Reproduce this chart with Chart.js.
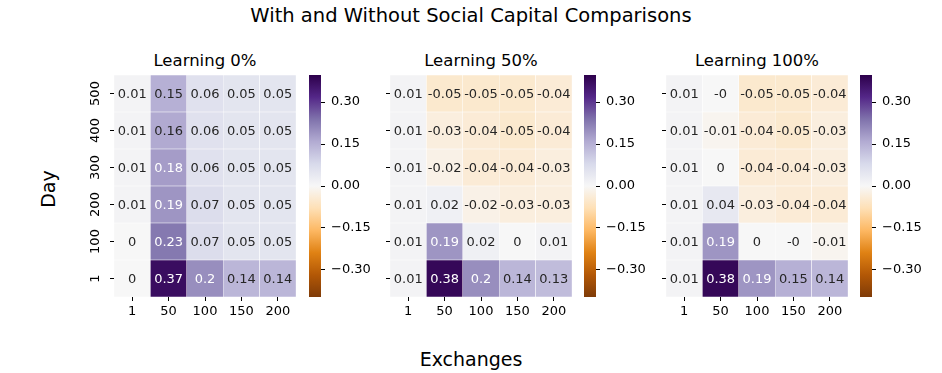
<!DOCTYPE html>
<html><head><meta charset="utf-8">
<script src="https://cdn.jsdelivr.net/npm/chart.js@4.4.1/dist/chart.umd.min.js"></script>
<style>
body{margin:0;background:#fff;width:942px;height:373px;position:relative;overflow:hidden;font-family:'DejaVu Sans',sans-serif;color:#000}
canvas{position:absolute}
.t{position:absolute;white-space:nowrap;text-align:center}
</style></head><body>
<div class="t" style="left:0;width:942px;top:4px;line-height:24px;font-size:19.5px">With and Without Social Capital Comparisons</div>
<div class="t" id="st0" style="top:49px;line-height:24px;font-size:16.5px;width:200px"></div>
<div class="t" id="st1" style="top:49px;line-height:24px;font-size:16.5px;width:200px"></div>
<div class="t" id="st2" style="top:49px;line-height:24px;font-size:16.5px;width:200px"></div>
<div class="t" style="left:371px;width:200px;top:347px;line-height:24px;font-size:19px">Exchanges</div>
<div class="t" style="left:47.5px;top:189px;line-height:24px;font-size:19px;transform:translate(-50%,-50%) rotate(-90deg)">Day</div>
<canvas id="h0"></canvas><canvas id="h1"></canvas><canvas id="h2"></canvas>
<canvas id="c0"></canvas><canvas id="c1"></canvas><canvas id="c2"></canvas>
<script>
// ---- data ----
const exchanges = ['1', '50', '100', '150', '200'];
const days = ['1', '100', '200', '300', '400', '500']; // bottom to top
const panelTitles = ['Learning 0%', 'Learning 50%', 'Learning 100%'];
// rows: day 1, 100, 200, 300, 400, 500 ; columns: exchanges
const learning0 = [
  [0, 0.37, 0.2, 0.14, 0.14],
  [0, 0.23, 0.07, 0.05, 0.05],
  [0.01, 0.19, 0.07, 0.05, 0.05],
  [0.01, 0.18, 0.06, 0.05, 0.05],
  [0.01, 0.16, 0.06, 0.05, 0.05],
  [0.01, 0.15, 0.06, 0.05, 0.05]
];
const learning50 = [
  [0.01, 0.38, 0.2, 0.14, 0.13],
  [0.01, 0.19, 0.02, 0, 0.01],
  [0.01, 0.02, -0.02, -0.03, -0.03],
  [0.01, -0.02, -0.04, -0.04, -0.03],
  [0.01, -0.03, -0.04, -0.05, -0.04],
  [0.01, -0.05, -0.05, -0.05, -0.04]
];
const learning100 = [
  [0.01, 0.38, 0.19, 0.15, 0.14],
  [0.01, 0.19, 0, -0, -0.01],
  [0.01, 0.04, -0.03, -0.04, -0.04],
  [0.01, 0, -0.04, -0.04, -0.03],
  [0.01, -0.01, -0.04, -0.05, -0.03],
  [0.01, -0, -0.05, -0.05, -0.04]
];
const colorbarTicks = [-0.3, -0.15, 0, 0.15, 0.3];
const vLimit = 0.397;

// ---- layout / style ----
const heatLeft = [114, 390, 666];
const heatW = 182, heatH = 222, heatTop = 75;
const cbLeft = [309, 584, 860];
const cbW = 12;
const PUOR = ['#7f3b08','#b35806','#e08214','#fdb863','#fee0b6','#f7f7f7','#d8daeb','#b2abd2','#8073ac','#542788','#2d004b'];

Chart.defaults.font.family = "'DejaVu Sans', sans-serif";
Chart.defaults.font.size = 13;
Chart.defaults.color = '#000';

function hex(h){return [parseInt(h.slice(1,3),16)/255,parseInt(h.slice(3,5),16)/255,parseInt(h.slice(5,7),16)/255];}
const PUOR_RGB = PUOR.map(hex);
function cmap(v){
  let t = (v + vLimit) / (2 * vLimit);
  t = Math.max(0, Math.min(1, t));
  const s = t * 10; const i = Math.min(9, Math.floor(s)); const f = s - i;
  const a = PUOR_RGB[i], b = PUOR_RGB[i+1];
  return [0,1,2].map(k => a[k] + (b[k]-a[k]) * f);
}
function css(rgb){return 'rgb(' + rgb.map(x => Math.round(x*255)).join(',') + ')';}
function lum(rgb){
  const l = rgb.map(c => c <= 0.03928 ? c/12.92 : Math.pow((c+0.055)/1.055, 2.4));
  return 0.2126*l[0] + 0.7152*l[1] + 0.0722*l[2];
}
function fmt(v){ return Object.is(v, -0) ? '-0' : String(v); }
function fmtTick(v){ return (v < 0 ? '\u2212' : '') + Math.abs(v).toFixed(2); }
function noPad(s){ s.paddingTop = 0; s.paddingBottom = 0; s.paddingLeft = 0; s.paddingRight = 0; }

const annotPlugin = {
  id: 'annot',
  afterDatasetsDraw(chart){
    const ctx = chart.ctx;
    ctx.save();
    ctx.font = "13px 'DejaVu Sans', sans-serif";
    ctx.textAlign = 'center';
    ctx.textBaseline = 'middle';
    chart.data.datasets.forEach((ds, di) => {
      const meta = chart.getDatasetMeta(di);
      meta.data.forEach((bar, j) => {
        const v = ds.cellValues[j];
        ctx.fillStyle = lum(cmap(v)) > 0.408 ? '#262626' : '#ffffff';
        ctx.fillText(fmt(v), bar.x, (bar.y + bar.base) / 2 + 1);
      });
    });
    ctx.restore();
  }
};

function setupCanvas(el, left, top, w, h){
  el.width = w; el.height = h;
  el.style.left = left + 'px'; el.style.top = top + 'px';
  el.style.width = w + 'px'; el.style.height = h + 'px';
}

function makeHeatmap(idx, values){
  const el = document.getElementById('h' + idx);
  const padTop = 5, yW = 50, xH = 30;
  setupCanvas(el, heatLeft[idx] - yW, heatTop - padTop, yW + heatW + 2, padTop + heatH + xH);
  const showY = idx === 0;
  const datasets = days.map((d, r) => ({
    label: d,
    data: exchanges.map(() => 1),
    cellValues: values[r],
    backgroundColor: values[r].map(v => css(cmap(v))),
    borderColor: '#ffffff',
    borderWidth: 0.5,
    borderSkipped: false,
    barPercentage: 1,
    categoryPercentage: 1
  }));
  new Chart(el, {
    type: 'bar',
    data: { labels: exchanges, datasets },
    options: {
      responsive: false, animation: false, events: [],
      layout: { padding: { left: 0, top: padTop, right: 2, bottom: 0 } },
      plugins: { legend: { display: false }, tooltip: { enabled: false } },
      scales: {
        x: {
          stacked: true,
          grid: { offset: false, drawOnChartArea: false, drawTicks: true, tickLength: 4, color: '#000', lineWidth: 1 },
          border: { display: false },
          ticks: { padding: 3, maxRotation: 0, color: '#000' },
          afterFit: s => { s.height = xH; noPad(s); }
        },
        y: {
          stacked: true, min: 0, max: 6,
          afterBuildTicks: s => { s.ticks = days.map((d, i) => ({ value: i + 0.5 })); },
          ticks: { callback: (v, i) => showY ? days[i] : '', minRotation: 90, maxRotation: 90, crossAlign: 'center', padding: 2, color: '#000' },
          grid: { drawOnChartArea: false, drawTicks: true, tickLength: 4, color: '#000', lineWidth: 1 },
          border: { display: false },
          afterFit: s => { s.width = yW; noPad(s); }
        }
      }
    },
    plugins: [annotPlugin]
  });
  const st = document.getElementById('st' + idx);
  st.textContent = panelTitles[idx];
  st.style.left = (heatLeft[idx] + heatW / 2 - 100) + 'px';
}

function makeColorbar(idx){
  const el = document.getElementById('c' + idx);
  const padTop = 5, padLeft = 2, axW = 50;
  setupCanvas(el, cbLeft[idx] - padLeft, heatTop - padTop, padLeft + cbW + axW, padTop + heatH + 5);
  new Chart(el, {
    type: 'bar',
    data: { labels: [''], datasets: [{
      data: [[-vLimit, vLimit]],
      backgroundColor: c => {
        const ca = c.chart.chartArea;
        if (!ca) return '#f7f7f7';
        const g = c.chart.ctx.createLinearGradient(0, ca.bottom, 0, ca.top);
        PUOR.forEach((h, i) => g.addColorStop(i / 10, h));
        return g;
      },
      borderWidth: 0, barPercentage: 1, categoryPercentage: 1
    }]},
    options: {
      responsive: false, animation: false, events: [],
      layout: { padding: { left: padLeft, top: padTop, right: 0, bottom: 5 } },
      plugins: { legend: { display: false }, tooltip: { enabled: false } },
      scales: {
        x: { display: false },
        y: {
          position: 'right', min: -vLimit, max: vLimit,
          afterBuildTicks: s => { s.ticks = colorbarTicks.map(v => ({ value: v })); },
          ticks: { callback: v => fmtTick(v), padding: 6, color: '#000' },
          grid: { drawOnChartArea: false, drawTicks: true, tickLength: 4, color: '#000', lineWidth: 1 },
          border: { display: false },
          afterFit: s => { s.width = axW; noPad(s); }
        }
      }
    }
  });
}

[learning0, learning50, learning100].forEach((vals, i) => { makeHeatmap(i, vals); makeColorbar(i); });
</script>
</body></html>
